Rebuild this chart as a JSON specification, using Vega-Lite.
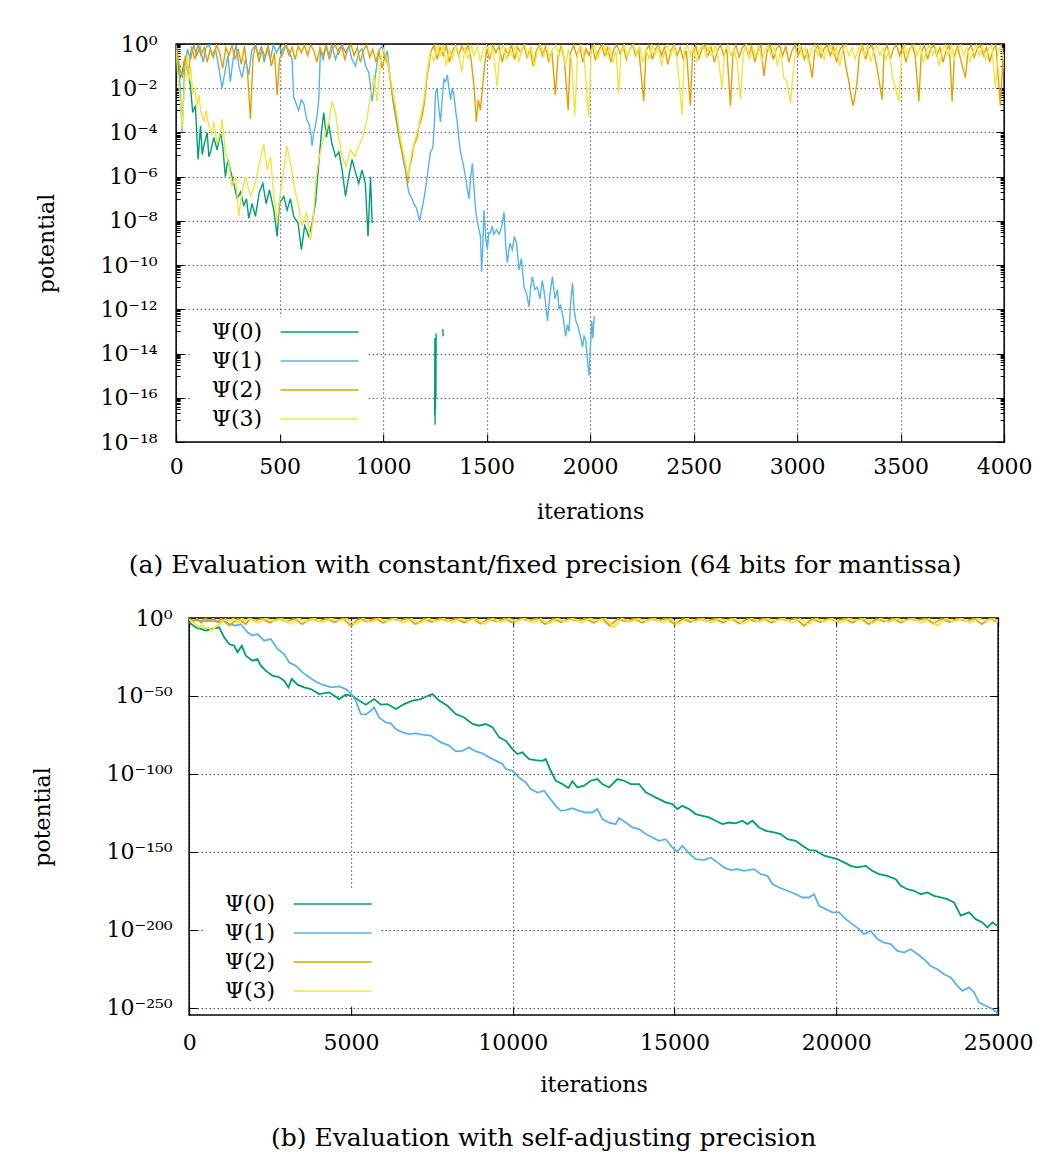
{
"$schema": "https://vega.github.io/schema/vega-lite/v6.json",
"background": "white",
"padding": {"left": 30, "top": 32, "right": 5, "bottom": 5},
"config": {
  "font": "DejaVu Serif",
  "view": {"stroke": "#000", "strokeWidth": 1.5},
  "axis": {"domain": false, "labelFont": "DejaVu Serif", "labelFontSize": 22, "labelColor": "#000", "titleFont": "DejaVu Serif", "titleFontSize": 22, "titleFontWeight": "normal", "titleColor": "#000", "tickColor": "#000", "tickWidth": 1, "gridColor": "#000", "gridDash": [1.2, 2.8], "gridWidth": 1, "gridOpacity": 0.85, "labelFlush": false, "labelOverlap": false},
  "legend": {"orient": "none", "fillColor": "white", "padding": 4, "symbolType": "M-4,0H4", "symbolSize": 380, "symbolStrokeWidth": 1.5, "labelFont": "DejaVu Serif", "labelFontSize": 22, "labelColor": "#000", "labelAlign": "right", "labelOffset": -68.5, "symbolOffset": 112.5, "rowPadding": 7},
  "title": {"font": "DejaVu Serif", "fontSize": 25, "fontWeight": "normal", "color": "#000"}
},
"spacing": 27,
"center": true,
"resolve": {"legend": {"color": "independent"}, "scale": {"color": "independent"}},
"vconcat": [
{
  "width": 828, "height": 398,
  "data": {"name": "top"},
  "title": {"text": "(a) Evaluation with constant/fixed precision (64 bits for mantissa)", "orient": "bottom", "frame": "group", "anchor": "middle", "dx": -45, "offset": 31},
  "layer": [
    {
      "mark": {"type": "line", "strokeWidth": 1.4, "clip": true},
      "encoding": {
        "x": {"field": "it", "type": "quantitative", "scale": {"domain": [0, 4000], "nice": false, "zero": false},
              "axis": {"orient": "bottom", "values": [0,500,1000,1500,2000,2500,3000,3500,4000], "format": "d", "tickSize": -8, "labelPadding": 22, "title": "iterations", "titlePadding": 24, "grid": true}},
        "y": {"field": "v", "type": "quantitative", "scale": {"type": "log", "domain": [1e-18, 1], "nice": false},
              "axis": {"orient": "left", "grid": true, "title": "potential", "titlePadding": 41, "labelPadding": 27,
                "values": [1,0.9,0.8,0.7,0.6,0.5,0.4,0.3,0.2,0.1,0.01,9e-3,8e-3,7e-3,6e-3,5e-3,4e-3,3e-3,2e-3,1e-3,1e-4,9e-5,8e-5,7e-5,6e-5,5e-5,4e-5,3e-5,2e-5,1e-5,1e-6,9e-7,8e-7,7e-7,6e-7,5e-7,4e-7,3e-7,2e-7,1e-7,1e-8,9e-9,8e-9,7e-9,6e-9,5e-9,4e-9,3e-9,2e-9,1e-9,1e-10,9e-11,8e-11,7e-11,6e-11,5e-11,4e-11,3e-11,2e-11,1e-11,1e-12,9e-13,8e-13,7e-13,6e-13,5e-13,4e-13,3e-13,2e-13,1e-13,1e-14,9e-15,8e-15,7e-15,6e-15,5e-15,4e-15,3e-15,2e-15,1e-15,1e-16,9e-17,8e-17,7e-17,6e-17,5e-17,4e-17,3e-17,2e-17,1e-17,1e-18],
                "tickSize": {"condition": {"test": "(abs(log(datum.value)/LN10 - round(log(datum.value)/LN10)) > 0.01) || (round(log(datum.value)/LN10) % 2 != 0)", "value": -4}, "value": -8},
                "gridOpacity": {"condition": {"test": "(abs(log(datum.value)/LN10 - round(log(datum.value)/LN10)) > 0.01) || (round(log(datum.value)/LN10) % 2 != 0)", "value": 0}, "value": 0.85},
                "labelExpr": "((abs(log(datum.value)/LN10 - round(log(datum.value)/LN10)) > 0.01) || (round(log(datum.value)/LN10) % 2 != 0)) ? '' : '10' + replace(replace(replace(replace(replace(replace(replace(replace(replace(replace(replace(toString(round(log(datum.value)/LN10)),'-','⁻'),regexp('0','g'),'⁰'),regexp('1','g'),'¹'),regexp('2','g'),'²'),regexp('3','g'),'³'),regexp('4','g'),'⁴'),regexp('5','g'),'⁵'),regexp('6','g'),'⁶'),regexp('7','g'),'⁷'),regexp('8','g'),'⁸'),regexp('9','g'),'⁹')"}},
        "color": {"field": "psi", "type": "nominal", "scale": {"domain": ["Ψ(0)","Ψ(1)","Ψ(2)","Ψ(3)"], "range": ["#009e73","#56b4e9","#e69f00","#f0e442"]},
                  "legend": {"title": null, "orient": "none", "legendX": 16, "legendY": 273}},
        "detail": {"field": "seg"}
      }
    },
    {
      "mark": {"type": "line", "opacity": 0},
      "encoding": {
        "x": {"field": "it", "type": "quantitative", "scale": {"domain": [0, 4000], "nice": false, "zero": false},
              "axis": {"orient": "top", "values": [0,500,1000,1500,2000,2500,3000,3500,4000], "labels": false, "tickSize": -8, "title": null, "grid": false}},
        "y": {"field": "v", "type": "quantitative", "scale": {"type": "log", "domain": [1e-18, 1], "nice": false},
              "axis": {"orient": "right", "title": null, "grid": false, "labelExpr": "datum.value == 1 ? '000' : ''", "labelOpacity": 0, "labelPadding": 8,
                "values": [1,0.9,0.8,0.7,0.6,0.5,0.4,0.3,0.2,0.1,0.01,9e-3,8e-3,7e-3,6e-3,5e-3,4e-3,3e-3,2e-3,1e-3,1e-4,9e-5,8e-5,7e-5,6e-5,5e-5,4e-5,3e-5,2e-5,1e-5,1e-6,9e-7,8e-7,7e-7,6e-7,5e-7,4e-7,3e-7,2e-7,1e-7,1e-8,9e-9,8e-9,7e-9,6e-9,5e-9,4e-9,3e-9,2e-9,1e-9,1e-10,9e-11,8e-11,7e-11,6e-11,5e-11,4e-11,3e-11,2e-11,1e-11,1e-12,9e-13,8e-13,7e-13,6e-13,5e-13,4e-13,3e-13,2e-13,1e-13,1e-14,9e-15,8e-15,7e-15,6e-15,5e-15,4e-15,3e-15,2e-15,1e-15,1e-16,9e-17,8e-17,7e-17,6e-17,5e-17,4e-17,3e-17,2e-17,1e-17,1e-18],
                "tickSize": {"condition": {"test": "(abs(log(datum.value)/LN10 - round(log(datum.value)/LN10)) > 0.01) || (round(log(datum.value)/LN10) % 2 != 0)", "value": -4}, "value": -8}}}
      }
    }
  ],
  "resolve": {"axis": {"x": "independent", "y": "independent"}}
},
{
  "width": 809, "height": 397,
  "data": {"name": "bot"},
  "title": {"text": "(b) Evaluation with self-adjusting precision", "orient": "bottom", "frame": "group", "anchor": "middle", "dx": -50, "offset": 31},
  "layer": [
    {
      "mark": {"type": "line", "strokeWidth": 1.8, "clip": true},
      "encoding": {
        "x": {"field": "it", "type": "quantitative", "scale": {"domain": [0, 25000], "nice": false, "zero": false},
              "axis": {"orient": "bottom", "values": [0,5000,10000,15000,20000,25000], "format": "d", "tickSize": -8, "labelPadding": 25, "title": "iterations", "titlePadding": 21, "grid": true}},
        "y": {"field": "v", "type": "quantitative", "scale": {"type": "log", "domain": [2e-255, 1], "nice": false},
              "axis": {"orient": "left", "grid": true, "title": "potential", "titlePadding": 52, "labelPadding": 25, "tickSize": -8,
                "values": [1,1e-50,1e-100,1e-150,1e-200,1e-250],
                "labelExpr": "'10' + replace(replace(replace(replace(replace(replace(replace(replace(replace(replace(replace(toString(round(log(datum.value)/LN10)),'-','⁻'),regexp('0','g'),'⁰'),regexp('1','g'),'¹'),regexp('2','g'),'²'),regexp('3','g'),'³'),regexp('4','g'),'⁴'),regexp('5','g'),'⁵'),regexp('6','g'),'⁶'),regexp('7','g'),'⁷'),regexp('8','g'),'⁸'),regexp('9','g'),'⁹')"}},
        "color": {"field": "psi", "type": "nominal", "scale": {"domain": ["Ψ(0)","Ψ(1)","Ψ(2)","Ψ(3)"], "range": ["#009e73","#56b4e9","#e69f00","#f0e442"]},
                  "legend": {"title": null, "orient": "none", "legendX": 16, "legendY": 271}}
      }
    },
    {
      "mark": {"type": "line", "opacity": 0},
      "encoding": {
        "x": {"field": "it", "type": "quantitative", "scale": {"domain": [0, 25000], "nice": false, "zero": false},
              "axis": {"orient": "top", "values": [0,5000,10000,15000,20000,25000], "labels": false, "tickSize": -8, "title": null, "grid": false}},
        "y": {"field": "v", "type": "quantitative", "scale": {"type": "log", "domain": [2e-255, 1], "nice": false},
              "axis": {"orient": "right", "labels": false, "title": null, "grid": false, "tickSize": -8, "values": [1,1e-50,1e-100,1e-150,1e-200,1e-250]}}
      }
    }
  ],
  "resolve": {"axis": {"x": "independent", "y": "independent"}}
}
],
"datasets": {
"top": [
{"psi":"Ψ(0)","seg":"a","it":5,"v":0.16},{"psi":"Ψ(0)","seg":"a","it":18,"v":0.03},{"psi":"Ψ(0)","seg":"a","it":29,"v":0.05},{"psi":"Ψ(0)","seg":"a","it":41,"v":0.2},{"psi":"Ψ(0)","seg":"a","it":53,"v":0.08},{"psi":"Ψ(0)","seg":"a","it":69,"v":0.013},{"psi":"Ψ(0)","seg":"a","it":80,"v":8e-4},{"psi":"Ψ(0)","seg":"a","it":93,"v":1.6e-3},{"psi":"Ψ(0)","seg":"a","it":106,"v":6e-6},{"psi":"Ψ(0)","seg":"a","it":118,"v":2e-4},{"psi":"Ψ(0)","seg":"a","it":126,"v":1e-5},{"psi":"Ψ(0)","seg":"a","it":134,"v":2.5e-5},{"psi":"Ψ(0)","seg":"a","it":150,"v":1e-4},{"psi":"Ψ(0)","seg":"a","it":158,"v":8e-6},{"psi":"Ψ(0)","seg":"a","it":166,"v":1.3e-5},{"psi":"Ψ(0)","seg":"a","it":182,"v":6e-5},{"psi":"Ψ(0)","seg":"a","it":198,"v":1.6e-5},{"psi":"Ψ(0)","seg":"a","it":214,"v":1e-4},{"psi":"Ψ(0)","seg":"a","it":225,"v":2.5e-5},{"psi":"Ψ(0)","seg":"a","it":238,"v":1e-6},{"psi":"Ψ(0)","seg":"a","it":250,"v":6e-6},{"psi":"Ψ(0)","seg":"a","it":262,"v":2e-6},{"psi":"Ψ(0)","seg":"a","it":278,"v":5e-7},{"psi":"Ψ(0)","seg":"a","it":295,"v":1e-7},{"psi":"Ψ(0)","seg":"a","it":311,"v":2e-7},{"psi":"Ψ(0)","seg":"a","it":327,"v":5e-8},{"psi":"Ψ(0)","seg":"a","it":340,"v":1e-7},{"psi":"Ψ(0)","seg":"a","it":351,"v":1.3e-8},{"psi":"Ψ(0)","seg":"a","it":367,"v":6e-8},{"psi":"Ψ(0)","seg":"a","it":383,"v":1.6e-8},{"psi":"Ψ(0)","seg":"a","it":402,"v":2e-7},{"psi":"Ψ(0)","seg":"a","it":419,"v":5e-7},{"psi":"Ψ(0)","seg":"a","it":435,"v":6e-8},{"psi":"Ψ(0)","seg":"a","it":451,"v":2.5e-7},{"psi":"Ψ(0)","seg":"a","it":472,"v":3e-8},{"psi":"Ψ(0)","seg":"a","it":488,"v":2e-9},{"psi":"Ψ(0)","seg":"a","it":499,"v":6e-8},{"psi":"Ψ(0)","seg":"a","it":520,"v":1.3e-7},{"psi":"Ψ(0)","seg":"a","it":536,"v":3e-8},{"psi":"Ψ(0)","seg":"a","it":552,"v":1e-7},{"psi":"Ψ(0)","seg":"a","it":568,"v":1.6e-8},{"psi":"Ψ(0)","seg":"a","it":589,"v":8e-9},{"psi":"Ψ(0)","seg":"a","it":605,"v":5e-10},{"psi":"Ψ(0)","seg":"a","it":621,"v":6e-9},{"psi":"Ψ(0)","seg":"a","it":641,"v":2e-9},{"psi":"Ψ(0)","seg":"a","it":657,"v":8e-9},{"psi":"Ψ(0)","seg":"a","it":673,"v":6e-8},{"psi":"Ψ(0)","seg":"a","it":689,"v":4e-6},{"psi":"Ψ(0)","seg":"a","it":702,"v":1e-4},{"psi":"Ψ(0)","seg":"a","it":713,"v":8e-4},{"psi":"Ψ(0)","seg":"a","it":726,"v":6e-5},{"psi":"Ψ(0)","seg":"a","it":737,"v":2.5e-4},{"psi":"Ψ(0)","seg":"a","it":753,"v":3e-5},{"psi":"Ψ(0)","seg":"a","it":770,"v":8e-6},{"psi":"Ψ(0)","seg":"a","it":786,"v":1.3e-5},{"psi":"Ψ(0)","seg":"a","it":802,"v":2e-6},{"psi":"Ψ(0)","seg":"a","it":818,"v":1.3e-7},{"psi":"Ψ(0)","seg":"a","it":834,"v":1e-6},{"psi":"Ψ(0)","seg":"a","it":850,"v":6e-6},{"psi":"Ψ(0)","seg":"a","it":866,"v":1.6e-6},{"psi":"Ψ(0)","seg":"a","it":882,"v":5e-7},{"psi":"Ψ(0)","seg":"a","it":898,"v":2e-6},{"psi":"Ψ(0)","seg":"a","it":914,"v":5e-7},{"psi":"Ψ(0)","seg":"a","it":927,"v":2e-9},{"psi":"Ψ(0)","seg":"a","it":939,"v":1e-6},{"psi":"Ψ(0)","seg":"a","it":947,"v":8e-9},
{"psi":"Ψ(0)","seg":"b","it":1249,"v":1.6e-17},{"psi":"Ψ(0)","seg":"b","it":1250,"v":5e-14},{"psi":"Ψ(0)","seg":"b","it":1251,"v":6e-18},{"psi":"Ψ(0)","seg":"b","it":1252,"v":1e-14},{"psi":"Ψ(0)","seg":"b","it":1253,"v":3e-17},{"psi":"Ψ(0)","seg":"b","it":1254,"v":3e-15},{"psi":"Ψ(0)","seg":"b","it":1255,"v":1e-16},{"psi":"Ψ(0)","seg":"b","it":1256,"v":8e-14},
{"psi":"Ψ(0)","seg":"c","it":1288,"v":1.3e-13},{"psi":"Ψ(0)","seg":"c","it":1290,"v":6e-14},
{"psi":"Ψ(1)","it":0,"v":0.9},{"psi":"Ψ(1)","it":15,"v":0.1},{"psi":"Ψ(1)","it":29,"v":1e-4},{"psi":"Ψ(1)","it":40,"v":0.05},{"psi":"Ψ(1)","it":55,"v":0.6},{"psi":"Ψ(1)","it":70,"v":0.2},{"psi":"Ψ(1)","it":85,"v":0.9},{"psi":"Ψ(1)","it":100,"v":0.3},{"psi":"Ψ(1)","it":115,"v":0.8},{"psi":"Ψ(1)","it":130,"v":0.15},{"psi":"Ψ(1)","it":145,"v":0.7},{"psi":"Ψ(1)","it":160,"v":0.9},{"psi":"Ψ(1)","it":175,"v":0.3},{"psi":"Ψ(1)","it":190,"v":0.6},{"psi":"Ψ(1)","it":205,"v":0.1},{"psi":"Ψ(1)","it":222,"v":0.01},{"psi":"Ψ(1)","it":235,"v":0.05},{"psi":"Ψ(1)","it":250,"v":0.3},{"psi":"Ψ(1)","it":262,"v":0.02},{"psi":"Ψ(1)","it":275,"v":0.2},{"psi":"Ψ(1)","it":290,"v":0.9},{"psi":"Ψ(1)","it":303,"v":0.1},{"psi":"Ψ(1)","it":318,"v":0.03},{"psi":"Ψ(1)","it":335,"v":0.2},{"psi":"Ψ(1)","it":351,"v":0.04},{"psi":"Ψ(1)","it":365,"v":0.5},{"psi":"Ψ(1)","it":383,"v":0.9},{"psi":"Ψ(1)","it":398,"v":0.3},{"psi":"Ψ(1)","it":412,"v":0.8},{"psi":"Ψ(1)","it":425,"v":0.15},{"psi":"Ψ(1)","it":440,"v":0.6},{"psi":"Ψ(1)","it":455,"v":0.2},{"psi":"Ψ(1)","it":470,"v":0.9},{"psi":"Ψ(1)","it":485,"v":0.4},{"psi":"Ψ(1)","it":500,"v":0.8},{"psi":"Ψ(1)","it":512,"v":0.3},{"psi":"Ψ(1)","it":530,"v":0.9},{"psi":"Ψ(1)","it":545,"v":0.5},{"psi":"Ψ(1)","it":560,"v":0.2},{"psi":"Ψ(1)","it":568,"v":4e-3},{"psi":"Ψ(1)","it":580,"v":2e-3},{"psi":"Ψ(1)","it":592,"v":1e-3},{"psi":"Ψ(1)","it":605,"v":3e-3},{"psi":"Ψ(1)","it":617,"v":2e-3},{"psi":"Ψ(1)","it":630,"v":4e-4},{"psi":"Ψ(1)","it":641,"v":2.5e-4},{"psi":"Ψ(1)","it":650,"v":1e-4},{"psi":"Ψ(1)","it":657,"v":2.5e-5},{"psi":"Ψ(1)","it":665,"v":1e-4},{"psi":"Ψ(1)","it":673,"v":2e-4},{"psi":"Ψ(1)","it":681,"v":6e-4},{"psi":"Ψ(1)","it":689,"v":3e-3},{"psi":"Ψ(1)","it":697,"v":0.5},{"psi":"Ψ(1)","it":710,"v":0.2},{"psi":"Ψ(1)","it":725,"v":0.8},{"psi":"Ψ(1)","it":737,"v":0.3},{"psi":"Ψ(1)","it":752,"v":0.9},{"psi":"Ψ(1)","it":770,"v":0.2},{"psi":"Ψ(1)","it":786,"v":0.6},{"psi":"Ψ(1)","it":802,"v":0.9},{"psi":"Ψ(1)","it":818,"v":0.4},{"psi":"Ψ(1)","it":834,"v":0.8},{"psi":"Ψ(1)","it":850,"v":0.2},{"psi":"Ψ(1)","it":866,"v":0.1},{"psi":"Ψ(1)","it":882,"v":0.4},{"psi":"Ψ(1)","it":898,"v":0.6},{"psi":"Ψ(1)","it":915,"v":0.1},{"psi":"Ψ(1)","it":931,"v":0.05},{"psi":"Ψ(1)","it":947,"v":2.5e-3},{"psi":"Ψ(1)","it":963,"v":0.04},{"psi":"Ψ(1)","it":979,"v":0.5},{"psi":"Ψ(1)","it":995,"v":0.8},{"psi":"Ψ(1)","it":1010,"v":0.2},{"psi":"Ψ(1)","it":1020,"v":0.5},{"psi":"Ψ(1)","it":1035,"v":0.025},{"psi":"Ψ(1)","it":1052,"v":1.3e-3},{"psi":"Ψ(1)","it":1064,"v":3e-4},{"psi":"Ψ(1)","it":1076,"v":6e-5},{"psi":"Ψ(1)","it":1088,"v":2e-5},{"psi":"Ψ(1)","it":1100,"v":4e-6},{"psi":"Ψ(1)","it":1108,"v":2e-6},{"psi":"Ψ(1)","it":1116,"v":5e-7},{"psi":"Ψ(1)","it":1124,"v":2e-7},{"psi":"Ψ(1)","it":1132,"v":1.3e-7},{"psi":"Ψ(1)","it":1140,"v":1e-7},{"psi":"Ψ(1)","it":1148,"v":6e-8},{"psi":"Ψ(1)","it":1160,"v":4e-8},{"psi":"Ψ(1)","it":1168,"v":2e-8},{"psi":"Ψ(1)","it":1176,"v":1e-8},{"psi":"Ψ(1)","it":1186,"v":3e-8},{"psi":"Ψ(1)","it":1197,"v":1e-7},{"psi":"Ψ(1)","it":1205,"v":3e-7},{"psi":"Ψ(1)","it":1213,"v":1e-6},{"psi":"Ψ(1)","it":1221,"v":4e-6},{"psi":"Ψ(1)","it":1229,"v":1.3e-5},{"psi":"Ψ(1)","it":1240,"v":2e-5},{"psi":"Ψ(1)","it":1247,"v":2e-4},{"psi":"Ψ(1)","it":1253,"v":6e-3},{"psi":"Ψ(1)","it":1261,"v":0.01},{"psi":"Ψ(1)","it":1270,"v":1e-3},{"psi":"Ψ(1)","it":1277,"v":3e-4},{"psi":"Ψ(1)","it":1285,"v":3e-3},{"psi":"Ψ(1)","it":1294,"v":0.025},{"psi":"Ψ(1)","it":1302,"v":0.02},{"psi":"Ψ(1)","it":1310,"v":0.04},{"psi":"Ψ(1)","it":1318,"v":0.01},{"psi":"Ψ(1)","it":1326,"v":3e-3},{"psi":"Ψ(1)","it":1334,"v":0.01},{"psi":"Ψ(1)","it":1342,"v":5e-3},{"psi":"Ψ(1)","it":1350,"v":1e-3},{"psi":"Ψ(1)","it":1358,"v":3e-4},{"psi":"Ψ(1)","it":1366,"v":5e-5},{"psi":"Ψ(1)","it":1374,"v":1.3e-5},{"psi":"Ψ(1)","it":1386,"v":4e-6},{"psi":"Ψ(1)","it":1398,"v":1e-6},{"psi":"Ψ(1)","it":1406,"v":3e-7},{"psi":"Ψ(1)","it":1415,"v":1e-7},{"psi":"Ψ(1)","it":1423,"v":1e-6},{"psi":"Ψ(1)","it":1431,"v":4e-6},{"psi":"Ψ(1)","it":1439,"v":3e-7},{"psi":"Ψ(1)","it":1447,"v":3e-8},{"psi":"Ψ(1)","it":1455,"v":1e-8},{"psi":"Ψ(1)","it":1463,"v":4e-9},{"psi":"Ψ(1)","it":1470,"v":2e-9},{"psi":"Ψ(1)","it":1476,"v":5e-11},{"psi":"Ψ(1)","it":1482,"v":1e-9},{"psi":"Ψ(1)","it":1487,"v":3e-8},{"psi":"Ψ(1)","it":1495,"v":2e-9},{"psi":"Ψ(1)","it":1503,"v":5e-10},{"psi":"Ψ(1)","it":1511,"v":3e-9},{"psi":"Ψ(1)","it":1519,"v":3e-9},{"psi":"Ψ(1)","it":1527,"v":6e-9},{"psi":"Ψ(1)","it":1535,"v":2.5e-9},{"psi":"Ψ(1)","it":1548,"v":4e-9},{"psi":"Ψ(1)","it":1560,"v":2.5e-9},{"psi":"Ψ(1)","it":1572,"v":5e-9},{"psi":"Ψ(1)","it":1584,"v":2.5e-8},{"psi":"Ψ(1)","it":1592,"v":8e-10},{"psi":"Ψ(1)","it":1600,"v":1.3e-10},{"psi":"Ψ(1)","it":1612,"v":1e-9},{"psi":"Ψ(1)","it":1624,"v":5e-10},{"psi":"Ψ(1)","it":1634,"v":2e-9},{"psi":"Ψ(1)","it":1644,"v":1e-9},{"psi":"Ψ(1)","it":1650,"v":3e-10},{"psi":"Ψ(1)","it":1656,"v":6e-11},{"psi":"Ψ(1)","it":1668,"v":2e-10},{"psi":"Ψ(1)","it":1681,"v":1e-11},{"psi":"Ψ(1)","it":1693,"v":5e-12},{"psi":"Ψ(1)","it":1705,"v":1.3e-12},{"psi":"Ψ(1)","it":1713,"v":1e-11},{"psi":"Ψ(1)","it":1721,"v":3e-11},{"psi":"Ψ(1)","it":1733,"v":8e-12},{"psi":"Ψ(1)","it":1745,"v":1e-11},{"psi":"Ψ(1)","it":1757,"v":3e-12},{"psi":"Ψ(1)","it":1769,"v":2e-11},{"psi":"Ψ(1)","it":1781,"v":4e-12},{"psi":"Ψ(1)","it":1794,"v":3e-13},{"psi":"Ψ(1)","it":1806,"v":5e-12},{"psi":"Ψ(1)","it":1818,"v":3e-11},{"psi":"Ψ(1)","it":1830,"v":3e-12},{"psi":"Ψ(1)","it":1842,"v":8e-12},{"psi":"Ψ(1)","it":1850,"v":1e-12},{"psi":"Ψ(1)","it":1858,"v":1.5e-12},{"psi":"Ψ(1)","it":1870,"v":4e-13},{"psi":"Ψ(1)","it":1882,"v":6e-14},{"psi":"Ψ(1)","it":1890,"v":2e-13},{"psi":"Ψ(1)","it":1898,"v":1e-13},{"psi":"Ψ(1)","it":1906,"v":2e-12},{"psi":"Ψ(1)","it":1915,"v":1.6e-11},{"psi":"Ψ(1)","it":1923,"v":1e-12},{"psi":"Ψ(1)","it":1931,"v":3e-13},{"psi":"Ψ(1)","it":1939,"v":2e-13},{"psi":"Ψ(1)","it":1947,"v":1e-13},{"psi":"Ψ(1)","it":1955,"v":5e-14},{"psi":"Ψ(1)","it":1963,"v":2e-14},{"psi":"Ψ(1)","it":1971,"v":6e-14},{"psi":"Ψ(1)","it":1979,"v":4e-14},{"psi":"Ψ(1)","it":1987,"v":5e-15},{"psi":"Ψ(1)","it":1995,"v":1e-15},{"psi":"Ψ(1)","it":2001,"v":2e-14},{"psi":"Ψ(1)","it":2008,"v":3e-13},{"psi":"Ψ(1)","it":2013,"v":5e-14},{"psi":"Ψ(1)","it":2020,"v":5e-13},
{"psi":"Ψ(2)","it":0,"v":0.9},{"psi":"Ψ(2)","it":15,"v":0.1},{"psi":"Ψ(2)","it":30,"v":0.03},{"psi":"Ψ(2)","it":45,"v":0.3},{"psi":"Ψ(2)","it":60,"v":0.06},{"psi":"Ψ(2)","it":75,"v":0.8},{"psi":"Ψ(2)","it":90,"v":0.2},{"psi":"Ψ(2)","it":105,"v":0.9},{"psi":"Ψ(2)","it":120,"v":0.3},{"psi":"Ψ(2)","it":135,"v":0.7},{"psi":"Ψ(2)","it":150,"v":0.15},{"psi":"Ψ(2)","it":165,"v":0.6},{"psi":"Ψ(2)","it":180,"v":0.25},{"psi":"Ψ(2)","it":195,"v":0.9},{"psi":"Ψ(2)","it":210,"v":0.4},{"psi":"Ψ(2)","it":225,"v":0.08},{"psi":"Ψ(2)","it":240,"v":0.7},{"psi":"Ψ(2)","it":255,"v":0.3},{"psi":"Ψ(2)","it":270,"v":0.9},{"psi":"Ψ(2)","it":285,"v":0.2},{"psi":"Ψ(2)","it":300,"v":0.6},{"psi":"Ψ(2)","it":315,"v":0.12},{"psi":"Ψ(2)","it":330,"v":0.8},{"psi":"Ψ(2)","it":345,"v":0.05},{"psi":"Ψ(2)","it":359,"v":4e-4},{"psi":"Ψ(2)","it":372,"v":0.3},{"psi":"Ψ(2)","it":385,"v":0.9},{"psi":"Ψ(2)","it":400,"v":0.15},{"psi":"Ψ(2)","it":415,"v":0.6},{"psi":"Ψ(2)","it":430,"v":0.25},{"psi":"Ψ(2)","it":445,"v":0.9},{"psi":"Ψ(2)","it":460,"v":0.1},{"psi":"Ψ(2)","it":475,"v":0.4},{"psi":"Ψ(2)","it":488,"v":5e-3},{"psi":"Ψ(2)","it":500,"v":0.2},{"psi":"Ψ(2)","it":515,"v":0.6},{"psi":"Ψ(2)","it":530,"v":0.9},{"psi":"Ψ(2)","it":545,"v":0.3},{"psi":"Ψ(2)","it":560,"v":0.7},{"psi":"Ψ(2)","it":575,"v":0.2},{"psi":"Ψ(2)","it":590,"v":0.8},{"psi":"Ψ(2)","it":605,"v":0.4},{"psi":"Ψ(2)","it":620,"v":0.9},{"psi":"Ψ(2)","it":635,"v":0.3},{"psi":"Ψ(2)","it":650,"v":0.9},{"psi":"Ψ(2)","it":665,"v":0.5},{"psi":"Ψ(2)","it":680,"v":0.15},{"psi":"Ψ(2)","it":695,"v":0.7},{"psi":"Ψ(2)","it":710,"v":0.3},{"psi":"Ψ(2)","it":725,"v":0.9},{"psi":"Ψ(2)","it":740,"v":0.2},{"psi":"Ψ(2)","it":755,"v":0.6},{"psi":"Ψ(2)","it":770,"v":0.9},{"psi":"Ψ(2)","it":785,"v":0.35},{"psi":"Ψ(2)","it":800,"v":0.8},{"psi":"Ψ(2)","it":815,"v":0.2},{"psi":"Ψ(2)","it":830,"v":0.6},{"psi":"Ψ(2)","it":845,"v":0.9},{"psi":"Ψ(2)","it":860,"v":0.3},{"psi":"Ψ(2)","it":875,"v":0.7},{"psi":"Ψ(2)","it":890,"v":0.15},{"psi":"Ψ(2)","it":905,"v":0.5},{"psi":"Ψ(2)","it":920,"v":0.9},{"psi":"Ψ(2)","it":935,"v":0.25},{"psi":"Ψ(2)","it":950,"v":0.6},{"psi":"Ψ(2)","it":965,"v":0.15},{"psi":"Ψ(2)","it":980,"v":0.5},{"psi":"Ψ(2)","it":995,"v":0.08},{"psi":"Ψ(2)","it":1010,"v":0.3},{"psi":"Ψ(2)","it":1027,"v":0.08},{"psi":"Ψ(2)","it":1044,"v":5e-3},{"psi":"Ψ(2)","it":1058,"v":1e-3},{"psi":"Ψ(2)","it":1068,"v":3e-4},{"psi":"Ψ(2)","it":1084,"v":2.5e-5},{"psi":"Ψ(2)","it":1100,"v":6e-6},{"psi":"Ψ(2)","it":1110,"v":3e-6},{"psi":"Ψ(2)","it":1119,"v":5e-7},{"psi":"Ψ(2)","it":1125,"v":2e-6},{"psi":"Ψ(2)","it":1132,"v":4e-6},{"psi":"Ψ(2)","it":1140,"v":8e-6},{"psi":"Ψ(2)","it":1148,"v":2.5e-5},{"psi":"Ψ(2)","it":1157,"v":4e-5},{"psi":"Ψ(2)","it":1165,"v":6e-5},{"psi":"Ψ(2)","it":1173,"v":2e-4},{"psi":"Ψ(2)","it":1181,"v":3e-4},{"psi":"Ψ(2)","it":1189,"v":6e-4},{"psi":"Ψ(2)","it":1197,"v":1.6e-3},{"psi":"Ψ(2)","it":1205,"v":6e-3},{"psi":"Ψ(2)","it":1213,"v":0.04},{"psi":"Ψ(2)","it":1221,"v":0.1},{"psi":"Ψ(2)","it":1229,"v":0.4},{"psi":"Ψ(2)","it":1245,"v":0.9},{"psi":"Ψ(2)","it":1260,"v":0.2},{"psi":"Ψ(2)","it":1275,"v":0.7},{"psi":"Ψ(2)","it":1290,"v":0.3},{"psi":"Ψ(2)","it":1305,"v":0.9},{"psi":"Ψ(2)","it":1320,"v":0.15},{"psi":"Ψ(2)","it":1335,"v":0.5},{"psi":"Ψ(2)","it":1350,"v":0.9},{"psi":"Ψ(2)","it":1365,"v":0.3},{"psi":"Ψ(2)","it":1380,"v":0.8},{"psi":"Ψ(2)","it":1395,"v":0.4},{"psi":"Ψ(2)","it":1410,"v":0.9},{"psi":"Ψ(2)","it":1425,"v":0.2},{"psi":"Ψ(2)","it":1440,"v":0.01},{"psi":"Ψ(2)","it":1450,"v":3e-4},{"psi":"Ψ(2)","it":1460,"v":3e-3},{"psi":"Ψ(2)","it":1470,"v":1e-3},{"psi":"Ψ(2)","it":1480,"v":0.01},{"psi":"Ψ(2)","it":1490,"v":0.1},{"psi":"Ψ(2)","it":1500,"v":0.6},{"psi":"Ψ(2)","it":1515,"v":0.2},{"psi":"Ψ(2)","it":1530,"v":0.9},{"psi":"Ψ(2)","it":1545,"v":0.4},{"psi":"Ψ(2)","it":1560,"v":0.8},{"psi":"Ψ(2)","it":1575,"v":0.15},{"psi":"Ψ(2)","it":1590,"v":0.6},{"psi":"Ψ(2)","it":1605,"v":0.3},{"psi":"Ψ(2)","it":1620,"v":0.9},{"psi":"Ψ(2)","it":1635,"v":0.2},{"psi":"Ψ(2)","it":1650,"v":0.7},{"psi":"Ψ(2)","it":1665,"v":0.4},{"psi":"Ψ(2)","it":1680,"v":0.9},{"psi":"Ψ(2)","it":1695,"v":0.25},{"psi":"Ψ(2)","it":1710,"v":0.6},{"psi":"Ψ(2)","it":1725,"v":0.1},{"psi":"Ψ(2)","it":1740,"v":0.5},{"psi":"Ψ(2)","it":1755,"v":0.9},{"psi":"Ψ(2)","it":1770,"v":0.3},{"psi":"Ψ(2)","it":1785,"v":0.8},{"psi":"Ψ(2)","it":1800,"v":0.15},{"psi":"Ψ(2)","it":1815,"v":0.5},{"psi":"Ψ(2)","it":1832,"v":5e-3},{"psi":"Ψ(2)","it":1845,"v":0.3},{"psi":"Ψ(2)","it":1860,"v":0.8},{"psi":"Ψ(2)","it":1875,"v":0.2},{"psi":"Ψ(2)","it":1894,"v":1e-3},{"psi":"Ψ(2)","it":1905,"v":0.4},{"psi":"Ψ(2)","it":1920,"v":0.9},{"psi":"Ψ(2)","it":1935,"v":0.3},{"psi":"Ψ(2)","it":1950,"v":0.7},{"psi":"Ψ(2)","it":1965,"v":0.15},{"psi":"Ψ(2)","it":1980,"v":0.6},{"psi":"Ψ(2)","it":1995,"v":0.3},{"psi":"Ψ(2)","it":2010,"v":0.9},{"psi":"Ψ(2)","it":2025,"v":0.2},{"psi":"Ψ(2)","it":2040,"v":0.5},{"psi":"Ψ(2)","it":2055,"v":0.9},{"psi":"Ψ(2)","it":2070,"v":0.3},{"psi":"Ψ(2)","it":2085,"v":0.7},{"psi":"Ψ(2)","it":2100,"v":0.15},{"psi":"Ψ(2)","it":2115,"v":0.6},{"psi":"Ψ(2)","it":2130,"v":0.9},{"psi":"Ψ(2)","it":2145,"v":0.35},{"psi":"Ψ(2)","it":2160,"v":0.8},{"psi":"Ψ(2)","it":2175,"v":0.2},{"psi":"Ψ(2)","it":2190,"v":0.5},{"psi":"Ψ(2)","it":2205,"v":0.9},{"psi":"Ψ(2)","it":2220,"v":0.3},{"psi":"Ψ(2)","it":2235,"v":0.6},{"psi":"Ψ(2)","it":2259,"v":2.5e-3},{"psi":"Ψ(2)","it":2270,"v":0.5},{"psi":"Ψ(2)","it":2285,"v":0.9},{"psi":"Ψ(2)","it":2300,"v":0.2},{"psi":"Ψ(2)","it":2315,"v":0.6},{"psi":"Ψ(2)","it":2330,"v":0.9},{"psi":"Ψ(2)","it":2345,"v":0.3},{"psi":"Ψ(2)","it":2360,"v":0.8},{"psi":"Ψ(2)","it":2375,"v":0.12},{"psi":"Ψ(2)","it":2390,"v":0.5},{"psi":"Ψ(2)","it":2405,"v":0.9},{"psi":"Ψ(2)","it":2420,"v":0.3},{"psi":"Ψ(2)","it":2435,"v":0.7},{"psi":"Ψ(2)","it":2450,"v":0.2},{"psi":"Ψ(2)","it":2465,"v":0.5},{"psi":"Ψ(2)","it":2484,"v":1.6e-3},{"psi":"Ψ(2)","it":2495,"v":0.4},{"psi":"Ψ(2)","it":2510,"v":0.9},{"psi":"Ψ(2)","it":2525,"v":0.2},{"psi":"Ψ(2)","it":2540,"v":0.6},{"psi":"Ψ(2)","it":2555,"v":0.9},{"psi":"Ψ(2)","it":2570,"v":0.3},{"psi":"Ψ(2)","it":2585,"v":0.7},{"psi":"Ψ(2)","it":2600,"v":0.15},{"psi":"Ψ(2)","it":2615,"v":0.5},{"psi":"Ψ(2)","it":2630,"v":0.9},{"psi":"Ψ(2)","it":2645,"v":0.3},{"psi":"Ψ(2)","it":2660,"v":0.6},{"psi":"Ψ(2)","it":2678,"v":1.6e-3},{"psi":"Ψ(2)","it":2690,"v":0.4},{"psi":"Ψ(2)","it":2705,"v":0.9},{"psi":"Ψ(2)","it":2720,"v":0.25},{"psi":"Ψ(2)","it":2735,"v":0.7},{"psi":"Ψ(2)","it":2750,"v":0.9},{"psi":"Ψ(2)","it":2765,"v":0.3},{"psi":"Ψ(2)","it":2780,"v":0.8},{"psi":"Ψ(2)","it":2795,"v":0.15},{"psi":"Ψ(2)","it":2810,"v":0.5},{"psi":"Ψ(2)","it":2825,"v":0.9},{"psi":"Ψ(2)","it":2839,"v":0.036},{"psi":"Ψ(2)","it":2855,"v":0.5},{"psi":"Ψ(2)","it":2870,"v":0.9},{"psi":"Ψ(2)","it":2885,"v":0.2},{"psi":"Ψ(2)","it":2900,"v":0.6},{"psi":"Ψ(2)","it":2915,"v":0.9},{"psi":"Ψ(2)","it":2930,"v":0.3},{"psi":"Ψ(2)","it":2945,"v":0.8},{"psi":"Ψ(2)","it":2960,"v":0.15},{"psi":"Ψ(2)","it":2975,"v":0.5},{"psi":"Ψ(2)","it":2990,"v":0.9},{"psi":"Ψ(2)","it":3005,"v":0.3},{"psi":"Ψ(2)","it":3020,"v":0.7},{"psi":"Ψ(2)","it":3035,"v":0.2},{"psi":"Ψ(2)","it":3050,"v":0.5},{"psi":"Ψ(2)","it":3073,"v":0.03},{"psi":"Ψ(2)","it":3085,"v":0.5},{"psi":"Ψ(2)","it":3100,"v":0.9},{"psi":"Ψ(2)","it":3115,"v":0.25},{"psi":"Ψ(2)","it":3130,"v":0.6},{"psi":"Ψ(2)","it":3145,"v":0.9},{"psi":"Ψ(2)","it":3160,"v":0.3},{"psi":"Ψ(2)","it":3175,"v":0.8},{"psi":"Ψ(2)","it":3190,"v":0.15},{"psi":"Ψ(2)","it":3205,"v":0.5},{"psi":"Ψ(2)","it":3220,"v":0.9},{"psi":"Ψ(2)","it":3235,"v":0.1},{"psi":"Ψ(2)","it":3250,"v":0.02},{"psi":"Ψ(2)","it":3262,"v":4e-3},{"psi":"Ψ(2)","it":3271,"v":1.6e-3},{"psi":"Ψ(2)","it":3280,"v":5e-3},{"psi":"Ψ(2)","it":3290,"v":0.02},{"psi":"Ψ(2)","it":3300,"v":0.3},{"psi":"Ψ(2)","it":3315,"v":0.9},{"psi":"Ψ(2)","it":3330,"v":0.2},{"psi":"Ψ(2)","it":3345,"v":0.6},{"psi":"Ψ(2)","it":3360,"v":0.9},{"psi":"Ψ(2)","it":3375,"v":0.3},{"psi":"Ψ(2)","it":3390,"v":0.05},{"psi":"Ψ(2)","it":3411,"v":3e-3},{"psi":"Ψ(2)","it":3420,"v":0.4},{"psi":"Ψ(2)","it":3435,"v":0.9},{"psi":"Ψ(2)","it":3450,"v":0.2},{"psi":"Ψ(2)","it":3465,"v":0.6},{"psi":"Ψ(2)","it":3480,"v":0.9},{"psi":"Ψ(2)","it":3495,"v":0.3},{"psi":"Ψ(2)","it":3510,"v":0.8},{"psi":"Ψ(2)","it":3525,"v":0.15},{"psi":"Ψ(2)","it":3540,"v":0.5},{"psi":"Ψ(2)","it":3555,"v":0.9},{"psi":"Ψ(2)","it":3570,"v":0.3},{"psi":"Ψ(2)","it":3588,"v":2.5e-3},{"psi":"Ψ(2)","it":3600,"v":0.4},{"psi":"Ψ(2)","it":3615,"v":0.9},{"psi":"Ψ(2)","it":3630,"v":0.2},{"psi":"Ψ(2)","it":3645,"v":0.6},{"psi":"Ψ(2)","it":3660,"v":0.9},{"psi":"Ψ(2)","it":3675,"v":0.3},{"psi":"Ψ(2)","it":3690,"v":0.7},{"psi":"Ψ(2)","it":3705,"v":0.15},{"psi":"Ψ(2)","it":3720,"v":0.5},{"psi":"Ψ(2)","it":3735,"v":0.9},{"psi":"Ψ(2)","it":3749,"v":2.5e-3},{"psi":"Ψ(2)","it":3760,"v":0.3},{"psi":"Ψ(2)","it":3775,"v":0.8},{"psi":"Ψ(2)","it":3790,"v":0.2},{"psi":"Ψ(2)","it":3813,"v":0.03},{"psi":"Ψ(2)","it":3825,"v":0.5},{"psi":"Ψ(2)","it":3840,"v":0.9},{"psi":"Ψ(2)","it":3855,"v":0.25},{"psi":"Ψ(2)","it":3870,"v":0.6},{"psi":"Ψ(2)","it":3885,"v":0.9},{"psi":"Ψ(2)","it":3900,"v":0.3},{"psi":"Ψ(2)","it":3915,"v":0.7},{"psi":"Ψ(2)","it":3930,"v":0.15},{"psi":"Ψ(2)","it":3945,"v":0.5},{"psi":"Ψ(2)","it":3960,"v":0.9},{"psi":"Ψ(2)","it":3982,"v":1.6e-3},{"psi":"Ψ(2)","it":3995,"v":0.3},{"psi":"Ψ(2)","it":4000,"v":0.05},
{"psi":"Ψ(3)","it":0,"v":0.5},{"psi":"Ψ(3)","it":10,"v":0.02},{"psi":"Ψ(3)","it":20,"v":3e-3},{"psi":"Ψ(3)","it":30,"v":1.5e-4},{"psi":"Ψ(3)","it":38,"v":5e-3},{"psi":"Ψ(3)","it":45,"v":0.05},{"psi":"Ψ(3)","it":53,"v":0.3},{"psi":"Ψ(3)","it":60,"v":0.02},{"psi":"Ψ(3)","it":70,"v":0.1},{"psi":"Ψ(3)","it":80,"v":6e-3},{"psi":"Ψ(3)","it":90,"v":0.01},{"psi":"Ψ(3)","it":100,"v":1.5e-3},{"psi":"Ψ(3)","it":110,"v":5e-3},{"psi":"Ψ(3)","it":120,"v":8e-4},{"psi":"Ψ(3)","it":134,"v":3e-4},{"psi":"Ψ(3)","it":145,"v":1e-3},{"psi":"Ψ(3)","it":158,"v":2e-4},{"psi":"Ψ(3)","it":170,"v":8e-5},{"psi":"Ψ(3)","it":182,"v":3e-4},{"psi":"Ψ(3)","it":198,"v":3e-5},{"psi":"Ψ(3)","it":214,"v":1e-4},{"psi":"Ψ(3)","it":222,"v":4e-4},{"psi":"Ψ(3)","it":238,"v":1.3e-5},{"psi":"Ψ(3)","it":254,"v":4e-6},{"psi":"Ψ(3)","it":270,"v":4e-7},{"psi":"Ψ(3)","it":287,"v":1e-6},{"psi":"Ψ(3)","it":303,"v":1.6e-8},{"psi":"Ψ(3)","it":319,"v":2.5e-7},{"psi":"Ψ(3)","it":335,"v":1e-6},{"psi":"Ψ(3)","it":359,"v":1.3e-7},{"psi":"Ψ(3)","it":383,"v":5e-7},{"psi":"Ψ(3)","it":402,"v":4e-6},{"psi":"Ψ(3)","it":423,"v":3e-5},{"psi":"Ψ(3)","it":440,"v":2e-6},{"psi":"Ψ(3)","it":456,"v":8e-6},{"psi":"Ψ(3)","it":472,"v":1.3e-7},{"psi":"Ψ(3)","it":488,"v":8e-9},{"psi":"Ψ(3)","it":504,"v":2e-7},{"psi":"Ψ(3)","it":520,"v":2e-6},{"psi":"Ψ(3)","it":536,"v":2.5e-5},{"psi":"Ψ(3)","it":552,"v":4e-6},{"psi":"Ψ(3)","it":568,"v":5e-7},{"psi":"Ψ(3)","it":589,"v":6e-8},{"psi":"Ψ(3)","it":609,"v":6e-9},{"psi":"Ψ(3)","it":630,"v":2.5e-8},{"psi":"Ψ(3)","it":649,"v":1.3e-9},{"psi":"Ψ(3)","it":665,"v":2.5e-8},{"psi":"Ψ(3)","it":676,"v":8e-7},{"psi":"Ψ(3)","it":689,"v":6e-6},{"psi":"Ψ(3)","it":713,"v":6e-5},{"psi":"Ψ(3)","it":737,"v":2.5e-4},{"psi":"Ψ(3)","it":753,"v":2.5e-3},{"psi":"Ψ(3)","it":770,"v":8e-4},{"psi":"Ψ(3)","it":786,"v":6e-5},{"psi":"Ψ(3)","it":802,"v":8e-6},{"psi":"Ψ(3)","it":821,"v":3e-6},{"psi":"Ψ(3)","it":842,"v":1.6e-5},{"psi":"Ψ(3)","it":863,"v":8e-6},{"psi":"Ψ(3)","it":882,"v":2.5e-5},{"psi":"Ψ(3)","it":902,"v":6e-5},{"psi":"Ψ(3)","it":922,"v":4e-4},{"psi":"Ψ(3)","it":939,"v":5e-3},{"psi":"Ψ(3)","it":955,"v":0.04},{"psi":"Ψ(3)","it":971,"v":2.5e-3},{"psi":"Ψ(3)","it":987,"v":0.16},{"psi":"Ψ(3)","it":1003,"v":0.6},{"psi":"Ψ(3)","it":1020,"v":0.2},{"psi":"Ψ(3)","it":1035,"v":0.03},{"psi":"Ψ(3)","it":1044,"v":0.01},{"psi":"Ψ(3)","it":1058,"v":2e-3},{"psi":"Ψ(3)","it":1068,"v":5e-4},{"psi":"Ψ(3)","it":1084,"v":5e-5},{"psi":"Ψ(3)","it":1100,"v":1e-5},{"psi":"Ψ(3)","it":1119,"v":1e-6},{"psi":"Ψ(3)","it":1132,"v":6e-6},{"psi":"Ψ(3)","it":1148,"v":3e-5},{"psi":"Ψ(3)","it":1165,"v":1e-4},{"psi":"Ψ(3)","it":1181,"v":5e-4},{"psi":"Ψ(3)","it":1197,"v":3e-3},{"psi":"Ψ(3)","it":1213,"v":0.06},{"psi":"Ψ(3)","it":1229,"v":0.5},{"psi":"Ψ(3)","it":1245,"v":0.15},{"psi":"Ψ(3)","it":1260,"v":0.8},{"psi":"Ψ(3)","it":1275,"v":0.3},{"psi":"Ψ(3)","it":1290,"v":0.9},{"psi":"Ψ(3)","it":1305,"v":0.1},{"psi":"Ψ(3)","it":1320,"v":0.6},{"psi":"Ψ(3)","it":1335,"v":0.2},{"psi":"Ψ(3)","it":1350,"v":0.9},{"psi":"Ψ(3)","it":1365,"v":0.4},{"psi":"Ψ(3)","it":1380,"v":0.05},{"psi":"Ψ(3)","it":1395,"v":0.7},{"psi":"Ψ(3)","it":1410,"v":0.2},{"psi":"Ψ(3)","it":1425,"v":0.9},{"psi":"Ψ(3)","it":1440,"v":0.3},{"psi":"Ψ(3)","it":1455,"v":0.8},{"psi":"Ψ(3)","it":1470,"v":0.15},{"psi":"Ψ(3)","it":1485,"v":0.6},{"psi":"Ψ(3)","it":1500,"v":0.9},{"psi":"Ψ(3)","it":1515,"v":0.3},{"psi":"Ψ(3)","it":1530,"v":0.7},{"psi":"Ψ(3)","it":1551,"v":0.012},{"psi":"Ψ(3)","it":1565,"v":0.5},{"psi":"Ψ(3)","it":1580,"v":0.9},{"psi":"Ψ(3)","it":1595,"v":0.2},{"psi":"Ψ(3)","it":1610,"v":0.7},{"psi":"Ψ(3)","it":1625,"v":0.3},{"psi":"Ψ(3)","it":1640,"v":0.9},{"psi":"Ψ(3)","it":1655,"v":0.15},{"psi":"Ψ(3)","it":1670,"v":0.6},{"psi":"Ψ(3)","it":1685,"v":0.9},{"psi":"Ψ(3)","it":1700,"v":0.25},{"psi":"Ψ(3)","it":1715,"v":0.8},{"psi":"Ψ(3)","it":1730,"v":0.1},{"psi":"Ψ(3)","it":1745,"v":0.5},{"psi":"Ψ(3)","it":1760,"v":0.9},{"psi":"Ψ(3)","it":1775,"v":0.3},{"psi":"Ψ(3)","it":1790,"v":0.7},{"psi":"Ψ(3)","it":1805,"v":0.2},{"psi":"Ψ(3)","it":1820,"v":0.6},{"psi":"Ψ(3)","it":1835,"v":0.9},{"psi":"Ψ(3)","it":1850,"v":0.3},{"psi":"Ψ(3)","it":1865,"v":0.8},{"psi":"Ψ(3)","it":1880,"v":0.1},{"psi":"Ψ(3)","it":1895,"v":0.5},{"psi":"Ψ(3)","it":1910,"v":0.2},{"psi":"Ψ(3)","it":1926,"v":6e-4},{"psi":"Ψ(3)","it":1940,"v":0.4},{"psi":"Ψ(3)","it":1955,"v":0.9},{"psi":"Ψ(3)","it":1970,"v":0.3},{"psi":"Ψ(3)","it":1993,"v":5e-4},{"psi":"Ψ(3)","it":2005,"v":0.5},{"psi":"Ψ(3)","it":2020,"v":0.9},{"psi":"Ψ(3)","it":2035,"v":0.2},{"psi":"Ψ(3)","it":2050,"v":0.6},{"psi":"Ψ(3)","it":2065,"v":0.9},{"psi":"Ψ(3)","it":2080,"v":0.3},{"psi":"Ψ(3)","it":2095,"v":0.7},{"psi":"Ψ(3)","it":2110,"v":0.15},{"psi":"Ψ(3)","it":2125,"v":0.5},{"psi":"Ψ(3)","it":2138,"v":6e-3},{"psi":"Ψ(3)","it":2150,"v":0.4},{"psi":"Ψ(3)","it":2165,"v":0.9},{"psi":"Ψ(3)","it":2180,"v":0.25},{"psi":"Ψ(3)","it":2195,"v":0.7},{"psi":"Ψ(3)","it":2210,"v":0.9},{"psi":"Ψ(3)","it":2225,"v":0.3},{"psi":"Ψ(3)","it":2240,"v":0.8},{"psi":"Ψ(3)","it":2255,"v":0.15},{"psi":"Ψ(3)","it":2270,"v":0.6},{"psi":"Ψ(3)","it":2285,"v":0.2},{"psi":"Ψ(3)","it":2300,"v":0.9},{"psi":"Ψ(3)","it":2315,"v":0.35},{"psi":"Ψ(3)","it":2330,"v":0.7},{"psi":"Ψ(3)","it":2345,"v":0.1},{"psi":"Ψ(3)","it":2360,"v":0.5},{"psi":"Ψ(3)","it":2375,"v":0.9},{"psi":"Ψ(3)","it":2390,"v":0.3},{"psi":"Ψ(3)","it":2405,"v":0.8},{"psi":"Ψ(3)","it":2420,"v":0.2},{"psi":"Ψ(3)","it":2444,"v":6e-4},{"psi":"Ψ(3)","it":2455,"v":0.5},{"psi":"Ψ(3)","it":2470,"v":0.9},{"psi":"Ψ(3)","it":2485,"v":0.3},{"psi":"Ψ(3)","it":2500,"v":0.7},{"psi":"Ψ(3)","it":2515,"v":0.15},{"psi":"Ψ(3)","it":2530,"v":0.6},{"psi":"Ψ(3)","it":2545,"v":0.9},{"psi":"Ψ(3)","it":2560,"v":0.25},{"psi":"Ψ(3)","it":2575,"v":0.8},{"psi":"Ψ(3)","it":2590,"v":0.3},{"psi":"Ψ(3)","it":2605,"v":0.9},{"psi":"Ψ(3)","it":2620,"v":0.2},{"psi":"Ψ(3)","it":2637,"v":0.01},{"psi":"Ψ(3)","it":2650,"v":0.5},{"psi":"Ψ(3)","it":2665,"v":0.9},{"psi":"Ψ(3)","it":2680,"v":0.3},{"psi":"Ψ(3)","it":2695,"v":0.6},{"psi":"Ψ(3)","it":2710,"v":0.15},{"psi":"Ψ(3)","it":2727,"v":3e-3},{"psi":"Ψ(3)","it":2740,"v":0.4},{"psi":"Ψ(3)","it":2755,"v":0.9},{"psi":"Ψ(3)","it":2770,"v":0.2},{"psi":"Ψ(3)","it":2785,"v":0.7},{"psi":"Ψ(3)","it":2800,"v":0.3},{"psi":"Ψ(3)","it":2815,"v":0.9},{"psi":"Ψ(3)","it":2830,"v":0.15},{"psi":"Ψ(3)","it":2845,"v":0.6},{"psi":"Ψ(3)","it":2860,"v":0.9},{"psi":"Ψ(3)","it":2875,"v":0.3},{"psi":"Ψ(3)","it":2890,"v":0.8},{"psi":"Ψ(3)","it":2905,"v":0.1},{"psi":"Ψ(3)","it":2920,"v":0.5},{"psi":"Ψ(3)","it":2935,"v":0.03},{"psi":"Ψ(3)","it":2950,"v":0.02},{"psi":"Ψ(3)","it":2968,"v":2e-3},{"psi":"Ψ(3)","it":2980,"v":0.05},{"psi":"Ψ(3)","it":2995,"v":0.6},{"psi":"Ψ(3)","it":3010,"v":0.9},{"psi":"Ψ(3)","it":3025,"v":0.3},{"psi":"Ψ(3)","it":3040,"v":0.7},{"psi":"Ψ(3)","it":3055,"v":0.15},{"psi":"Ψ(3)","it":3070,"v":0.6},{"psi":"Ψ(3)","it":3085,"v":0.9},{"psi":"Ψ(3)","it":3100,"v":0.3},{"psi":"Ψ(3)","it":3115,"v":0.8},{"psi":"Ψ(3)","it":3130,"v":0.2},{"psi":"Ψ(3)","it":3145,"v":0.6},{"psi":"Ψ(3)","it":3160,"v":0.9},{"psi":"Ψ(3)","it":3175,"v":0.3},{"psi":"Ψ(3)","it":3190,"v":0.7},{"psi":"Ψ(3)","it":3205,"v":0.1},{"psi":"Ψ(3)","it":3220,"v":0.5},{"psi":"Ψ(3)","it":3235,"v":0.9},{"psi":"Ψ(3)","it":3250,"v":0.3},{"psi":"Ψ(3)","it":3265,"v":0.7},{"psi":"Ψ(3)","it":3280,"v":0.2},{"psi":"Ψ(3)","it":3295,"v":0.6},{"psi":"Ψ(3)","it":3310,"v":0.9},{"psi":"Ψ(3)","it":3325,"v":0.3},{"psi":"Ψ(3)","it":3340,"v":0.8},{"psi":"Ψ(3)","it":3355,"v":0.15},{"psi":"Ψ(3)","it":3370,"v":0.5},{"psi":"Ψ(3)","it":3385,"v":0.9},{"psi":"Ψ(3)","it":3400,"v":0.3},{"psi":"Ψ(3)","it":3415,"v":0.7},{"psi":"Ψ(3)","it":3430,"v":0.2},{"psi":"Ψ(3)","it":3445,"v":0.6},{"psi":"Ψ(3)","it":3460,"v":0.03},{"psi":"Ψ(3)","it":3475,"v":0.01},{"psi":"Ψ(3)","it":3491,"v":2.5e-3},{"psi":"Ψ(3)","it":3505,"v":0.3},{"psi":"Ψ(3)","it":3520,"v":0.9},{"psi":"Ψ(3)","it":3535,"v":0.25},{"psi":"Ψ(3)","it":3550,"v":0.7},{"psi":"Ψ(3)","it":3565,"v":0.9},{"psi":"Ψ(3)","it":3580,"v":0.3},{"psi":"Ψ(3)","it":3595,"v":0.8},{"psi":"Ψ(3)","it":3610,"v":0.15},{"psi":"Ψ(3)","it":3625,"v":0.5},{"psi":"Ψ(3)","it":3640,"v":0.9},{"psi":"Ψ(3)","it":3655,"v":0.3},{"psi":"Ψ(3)","it":3670,"v":0.7},{"psi":"Ψ(3)","it":3685,"v":0.1},{"psi":"Ψ(3)","it":3700,"v":0.5},{"psi":"Ψ(3)","it":3715,"v":0.9},{"psi":"Ψ(3)","it":3730,"v":0.3},{"psi":"Ψ(3)","it":3745,"v":0.8},{"psi":"Ψ(3)","it":3760,"v":0.2},{"psi":"Ψ(3)","it":3775,"v":0.6},{"psi":"Ψ(3)","it":3790,"v":0.9},{"psi":"Ψ(3)","it":3805,"v":0.3},{"psi":"Ψ(3)","it":3820,"v":0.7},{"psi":"Ψ(3)","it":3835,"v":0.15},{"psi":"Ψ(3)","it":3850,"v":0.5},{"psi":"Ψ(3)","it":3865,"v":0.9},{"psi":"Ψ(3)","it":3880,"v":0.3},{"psi":"Ψ(3)","it":3895,"v":0.8},{"psi":"Ψ(3)","it":3910,"v":0.2},{"psi":"Ψ(3)","it":3925,"v":0.6},{"psi":"Ψ(3)","it":3940,"v":0.9},{"psi":"Ψ(3)","it":3958,"v":0.01},{"psi":"Ψ(3)","it":3970,"v":0.4},{"psi":"Ψ(3)","it":3985,"v":0.9},{"psi":"Ψ(3)","it":4000,"v":0.2}
],
"bot": [
{"psi":"Ψ(0)","it":0,"v":1.6e-3},{"psi":"Ψ(0)","it":206,"v":1e-6},{"psi":"Ψ(0)","it":515,"v":1e-8},{"psi":"Ψ(0)","it":721,"v":1e-7},{"psi":"Ψ(0)","it":927,"v":1e-6},{"psi":"Ψ(0)","it":1082,"v":4e-13},{"psi":"Ψ(0)","it":1236,"v":2e-17},{"psi":"Ψ(0)","it":1391,"v":1.6e-18},{"psi":"Ψ(0)","it":1494,"v":1e-22},{"psi":"Ψ(0)","it":1627,"v":1.6e-18},{"psi":"Ψ(0)","it":1751,"v":6e-25},{"psi":"Ψ(0)","it":1957,"v":4e-28},{"psi":"Ψ(0)","it":2112,"v":5e-27},{"psi":"Ψ(0)","it":2215,"v":2.5e-31},{"psi":"Ψ(0)","it":2369,"v":1.6e-34},{"psi":"Ψ(0)","it":2575,"v":1e-37},{"psi":"Ψ(0)","it":2781,"v":1e-38},{"psi":"Ψ(0)","it":2936,"v":6e-41},{"psi":"Ψ(0)","it":3069,"v":3e-45},{"psi":"Ψ(0)","it":3172,"v":1e-39},{"psi":"Ψ(0)","it":3348,"v":1.6e-43},{"psi":"Ψ(0)","it":3554,"v":3e-45},{"psi":"Ψ(0)","it":3760,"v":2.5e-46},{"psi":"Ψ(0)","it":4017,"v":1.6e-49},{"psi":"Ψ(0)","it":4326,"v":2e-48},{"psi":"Ψ(0)","it":4635,"v":1e-52},{"psi":"Ψ(0)","it":4841,"v":6e-50},{"psi":"Ψ(0)","it":5047,"v":1.3e-50},{"psi":"Ψ(0)","it":5253,"v":1e-53},{"psi":"Ψ(0)","it":5459,"v":2.5e-56},{"psi":"Ψ(0)","it":5717,"v":1e-52},{"psi":"Ψ(0)","it":5923,"v":2.5e-56},{"psi":"Ψ(0)","it":6129,"v":6e-56},{"psi":"Ψ(0)","it":6386,"v":4e-59},{"psi":"Ψ(0)","it":6644,"v":6e-56},{"psi":"Ψ(0)","it":6901,"v":1e-53},{"psi":"Ψ(0)","it":7159,"v":1e-52},{"psi":"Ψ(0)","it":7313,"v":3e-51},{"psi":"Ψ(0)","it":7519,"v":1.6e-49},{"psi":"Ψ(0)","it":7725,"v":1e-53},{"psi":"Ψ(0)","it":7983,"v":5e-57},{"psi":"Ψ(0)","it":8240,"v":2.5e-62},{"psi":"Ψ(0)","it":8498,"v":1.6e-64},{"psi":"Ψ(0)","it":8755,"v":1e-68},{"psi":"Ψ(0)","it":8961,"v":8e-70},{"psi":"Ψ(0)","it":9167,"v":1e-68},{"psi":"Ψ(0)","it":9373,"v":1e-70},{"psi":"Ψ(0)","it":9579,"v":2.5e-77},{"psi":"Ψ(0)","it":9784,"v":2e-79},{"psi":"Ψ(0)","it":9990,"v":8e-85},{"psi":"Ψ(0)","it":10145,"v":5e-88},{"psi":"Ψ(0)","it":10299,"v":6e-87},{"psi":"Ψ(0)","it":10505,"v":3e-91},{"psi":"Ψ(0)","it":10711,"v":6e-92},{"psi":"Ψ(0)","it":10917,"v":2.5e-92},{"psi":"Ψ(0)","it":11020,"v":3e-91},{"psi":"Ψ(0)","it":11175,"v":1e-98},{"psi":"Ψ(0)","it":11329,"v":4e-105},{"psi":"Ψ(0)","it":11535,"v":3e-107},{"psi":"Ψ(0)","it":11720,"v":8e-110},{"psi":"Ψ(0)","it":11844,"v":1.6e-105},{"psi":"Ψ(0)","it":11999,"v":2e-109},{"psi":"Ψ(0)","it":12205,"v":2.5e-108},{"psi":"Ψ(0)","it":12411,"v":4e-105},{"psi":"Ψ(0)","it":12617,"v":5e-104},{"psi":"Ψ(0)","it":12771,"v":3e-107},{"psi":"Ψ(0)","it":12977,"v":2e-109},{"psi":"Ψ(0)","it":13235,"v":5e-104},{"psi":"Ψ(0)","it":13441,"v":4e-105},{"psi":"Ψ(0)","it":13647,"v":3e-107},{"psi":"Ψ(0)","it":13904,"v":3e-107},{"psi":"Ψ(0)","it":14110,"v":1.3e-112},{"psi":"Ψ(0)","it":14316,"v":1e-114},{"psi":"Ψ(0)","it":14522,"v":6e-117},{"psi":"Ψ(0)","it":14728,"v":5e-119},{"psi":"Ψ(0)","it":14934,"v":4e-120},{"psi":"Ψ(0)","it":15089,"v":2.5e-123},{"psi":"Ψ(0)","it":15243,"v":3e-121},{"psi":"Ψ(0)","it":15449,"v":2.5e-123},{"psi":"Ψ(0)","it":15655,"v":1.6e-126},{"psi":"Ψ(0)","it":15861,"v":1.3e-127},{"psi":"Ψ(0)","it":16067,"v":1.3e-128},{"psi":"Ψ(0)","it":16273,"v":8e-131},{"psi":"Ψ(0)","it":16479,"v":6e-133},{"psi":"Ψ(0)","it":16685,"v":6e-132},{"psi":"Ψ(0)","it":16891,"v":1.6e-132},{"psi":"Ψ(0)","it":17097,"v":8e-131},{"psi":"Ψ(0)","it":17252,"v":6e-133},{"psi":"Ψ(0)","it":17407,"v":8e-131},{"psi":"Ψ(0)","it":17613,"v":4e-135},{"psi":"Ψ(0)","it":17819,"v":3e-137},{"psi":"Ψ(0)","it":18076,"v":2.5e-138},{"psi":"Ψ(0)","it":18282,"v":2.5e-139},{"psi":"Ψ(0)","it":18488,"v":1.3e-142},{"psi":"Ψ(0)","it":18746,"v":1e-143},{"psi":"Ψ(0)","it":18952,"v":8e-147},{"psi":"Ψ(0)","it":19158,"v":1.3e-149},{"psi":"Ψ(0)","it":19364,"v":5e-150},{"psi":"Ψ(0)","it":19621,"v":3e-153},{"psi":"Ψ(0)","it":19827,"v":2.5e-154},{"psi":"Ψ(0)","it":20033,"v":2e-155},{"psi":"Ψ(0)","it":20239,"v":1.6e-157},{"psi":"Ψ(0)","it":20445,"v":1e-159},{"psi":"Ψ(0)","it":20651,"v":1e-160},{"psi":"Ψ(0)","it":20909,"v":1e-159},{"psi":"Ψ(0)","it":21115,"v":6e-163},{"psi":"Ψ(0)","it":21321,"v":5e-165},{"psi":"Ψ(0)","it":21578,"v":4e-166},{"psi":"Ψ(0)","it":21836,"v":3e-168},{"psi":"Ψ(0)","it":21990,"v":1.6e-172},{"psi":"Ψ(0)","it":22196,"v":1e-174},{"psi":"Ψ(0)","it":22402,"v":1e-175},{"psi":"Ψ(0)","it":22608,"v":6e-178},{"psi":"Ψ(0)","it":22814,"v":8e-177},{"psi":"Ψ(0)","it":23020,"v":6e-179},{"psi":"Ψ(0)","it":23226,"v":5e-180},{"psi":"Ψ(0)","it":23432,"v":4e-181},{"psi":"Ψ(0)","it":23638,"v":3e-183},{"psi":"Ψ(0)","it":23844,"v":1e-191},{"psi":"Ψ(0)","it":24102,"v":1.3e-189},{"psi":"Ψ(0)","it":24308,"v":6e-194},{"psi":"Ψ(0)","it":24514,"v":5e-196},{"psi":"Ψ(0)","it":24669,"v":3e-199},{"psi":"Ψ(0)","it":24823,"v":5e-196},{"psi":"Ψ(0)","it":24977,"v":3e-198},
{"psi":"Ψ(1)","it":0,"v":0.05},{"psi":"Ψ(1)","it":309,"v":0.02},{"psi":"Ψ(1)","it":515,"v":8e-3},{"psi":"Ψ(1)","it":721,"v":0.02},{"psi":"Ψ(1)","it":927,"v":1.6e-3},{"psi":"Ψ(1)","it":1082,"v":0.02},{"psi":"Ψ(1)","it":1236,"v":1.3e-4},{"psi":"Ψ(1)","it":1442,"v":1.3e-5},{"psi":"Ψ(1)","it":1596,"v":1.3e-4},{"psi":"Ψ(1)","it":1803,"v":6e-10},{"psi":"Ψ(1)","it":1957,"v":5e-12},{"psi":"Ψ(1)","it":2112,"v":5e-11},{"psi":"Ψ(1)","it":2318,"v":3e-15},{"psi":"Ψ(1)","it":2524,"v":3e-14},{"psi":"Ψ(1)","it":2730,"v":1.3e-20},{"psi":"Ψ(1)","it":2936,"v":8e-24},{"psi":"Ψ(1)","it":3090,"v":3e-29},{"psi":"Ψ(1)","it":3296,"v":2.5e-31},{"psi":"Ψ(1)","it":3502,"v":1.3e-35},{"psi":"Ψ(1)","it":3708,"v":1e-38},{"psi":"Ψ(1)","it":3914,"v":2e-41},{"psi":"Ψ(1)","it":4120,"v":1.6e-43},{"psi":"Ψ(1)","it":4378,"v":3e-45},{"psi":"Ψ(1)","it":4635,"v":1.3e-44},{"psi":"Ψ(1)","it":4841,"v":2.5e-46},{"psi":"Ψ(1)","it":4996,"v":4e-49},{"psi":"Ψ(1)","it":5150,"v":1e-53},{"psi":"Ψ(1)","it":5305,"v":2.5e-62},{"psi":"Ψ(1)","it":5459,"v":1e-62},{"psi":"Ψ(1)","it":5614,"v":3e-60},{"psi":"Ψ(1)","it":5717,"v":5e-58},{"psi":"Ψ(1)","it":5871,"v":1.6e-64},{"psi":"Ψ(1)","it":6077,"v":1e-67},{"psi":"Ψ(1)","it":6232,"v":2.5e-68},{"psi":"Ψ(1)","it":6386,"v":6e-72},{"psi":"Ψ(1)","it":6592,"v":4e-74},{"psi":"Ψ(1)","it":6798,"v":3e-75},{"psi":"Ψ(1)","it":7004,"v":1e-74},{"psi":"Ψ(1)","it":7210,"v":1.3e-75},{"psi":"Ψ(1)","it":7468,"v":3e-76},{"psi":"Ψ(1)","it":7622,"v":2e-78},{"psi":"Ψ(1)","it":7777,"v":1.6e-80},{"psi":"Ψ(1)","it":8034,"v":1.3e-82},{"psi":"Ψ(1)","it":8240,"v":2.5e-86},{"psi":"Ψ(1)","it":8446,"v":6e-86},{"psi":"Ψ(1)","it":8652,"v":1e-83},{"psi":"Ψ(1)","it":8858,"v":2.5e-86},{"psi":"Ψ(1)","it":9064,"v":1.3e-87},{"psi":"Ψ(1)","it":9270,"v":4e-90},{"psi":"Ψ(1)","it":9476,"v":3e-92},{"psi":"Ψ(1)","it":9682,"v":2e-94},{"psi":"Ψ(1)","it":9784,"v":1.3e-97},{"psi":"Ψ(1)","it":9990,"v":1e-98},{"psi":"Ψ(1)","it":10196,"v":5e-103},{"psi":"Ψ(1)","it":10402,"v":3e-106},{"psi":"Ψ(1)","it":10557,"v":1.6e-110},{"psi":"Ψ(1)","it":10763,"v":1e-112},{"psi":"Ψ(1)","it":10969,"v":1.6e-111},{"psi":"Ψ(1)","it":11123,"v":8e-116},{"psi":"Ψ(1)","it":11329,"v":3e-121},{"psi":"Ψ(1)","it":11484,"v":2e-124},{"psi":"Ψ(1)","it":11638,"v":6e-124},{"psi":"Ψ(1)","it":11844,"v":1e-122},{"psi":"Ψ(1)","it":12050,"v":2e-124},{"psi":"Ψ(1)","it":12256,"v":1.6e-125},{"psi":"Ψ(1)","it":12462,"v":1.6e-125},{"psi":"Ψ(1)","it":12617,"v":2.5e-123},{"psi":"Ψ(1)","it":12771,"v":1e-129},{"psi":"Ψ(1)","it":12977,"v":6e-132},{"psi":"Ψ(1)","it":13183,"v":6e-133},{"psi":"Ψ(1)","it":13286,"v":4e-129},{"psi":"Ψ(1)","it":13492,"v":6e-132},{"psi":"Ψ(1)","it":13698,"v":4e-135},{"psi":"Ψ(1)","it":13904,"v":4e-136},{"psi":"Ψ(1)","it":14110,"v":2.5e-139},{"psi":"Ψ(1)","it":14316,"v":1.6e-141},{"psi":"Ψ(1)","it":14522,"v":1e-143},{"psi":"Ψ(1)","it":14728,"v":1.3e-142},{"psi":"Ψ(1)","it":14934,"v":6e-148},{"psi":"Ψ(1)","it":15089,"v":1e-150},{"psi":"Ψ(1)","it":15243,"v":8e-147},{"psi":"Ψ(1)","it":15449,"v":1e-151},{"psi":"Ψ(1)","it":15655,"v":2e-155},{"psi":"Ψ(1)","it":15913,"v":5e-156},{"psi":"Ψ(1)","it":16119,"v":2.5e-154},{"psi":"Ψ(1)","it":16325,"v":1.6e-157},{"psi":"Ψ(1)","it":16531,"v":1e-160},{"psi":"Ψ(1)","it":16737,"v":1.6e-162},{"psi":"Ψ(1)","it":16943,"v":8e-162},{"psi":"Ψ(1)","it":17149,"v":6e-163},{"psi":"Ψ(1)","it":17458,"v":8e-162},{"psi":"Ψ(1)","it":17664,"v":5e-165},{"psi":"Ψ(1)","it":17870,"v":4e-166},{"psi":"Ψ(1)","it":18025,"v":2e-171},{"psi":"Ψ(1)","it":18231,"v":1.3e-173},{"psi":"Ψ(1)","it":18488,"v":1e-175},{"psi":"Ψ(1)","it":18746,"v":6e-178},{"psi":"Ψ(1)","it":18952,"v":5e-180},{"psi":"Ψ(1)","it":19158,"v":5e-180},{"psi":"Ψ(1)","it":19312,"v":6e-178},{"psi":"Ψ(1)","it":19467,"v":2.5e-185},{"psi":"Ψ(1)","it":19673,"v":1.6e-187},{"psi":"Ψ(1)","it":19879,"v":1.3e-189},{"psi":"Ψ(1)","it":20085,"v":1.3e-189},{"psi":"Ψ(1)","it":20290,"v":6e-194},{"psi":"Ψ(1)","it":20496,"v":4e-197},{"psi":"Ψ(1)","it":20702,"v":2.5e-200},{"psi":"Ψ(1)","it":20857,"v":1.6e-203},{"psi":"Ψ(1)","it":21063,"v":2e-201},{"psi":"Ψ(1)","it":21269,"v":1e-206},{"psi":"Ψ(1)","it":21475,"v":6e-209},{"psi":"Ψ(1)","it":21681,"v":6e-210},{"psi":"Ψ(1)","it":21887,"v":3e-214},{"psi":"Ψ(1)","it":22093,"v":2.5e-215},{"psi":"Ψ(1)","it":22299,"v":3e-213},{"psi":"Ψ(1)","it":22505,"v":2.5e-216},{"psi":"Ψ(1)","it":22711,"v":1.3e-219},{"psi":"Ψ(1)","it":22917,"v":6e-224},{"psi":"Ψ(1)","it":23123,"v":5e-226},{"psi":"Ψ(1)","it":23329,"v":3e-229},{"psi":"Ψ(1)","it":23535,"v":2.5e-231},{"psi":"Ψ(1)","it":23741,"v":1e-236},{"psi":"Ψ(1)","it":23896,"v":6e-240},{"psi":"Ψ(1)","it":24102,"v":1e-237},{"psi":"Ψ(1)","it":24257,"v":6e-241},{"psi":"Ψ(1)","it":24411,"v":2e-247},{"psi":"Ψ(1)","it":24617,"v":1.6e-249},{"psi":"Ψ(1)","it":24823,"v":1.3e-251},{"psi":"Ψ(1)","it":24998,"v":2e-254},
{"psi":"Ψ(2)","it":0,"v":0.5},{"psi":"Ψ(2)","it":125,"v":0.01},{"psi":"Ψ(2)","it":250,"v":0.3},{"psi":"Ψ(2)","it":375,"v":1e-3},{"psi":"Ψ(2)","it":500,"v":0.6},{"psi":"Ψ(2)","it":625,"v":0.02},{"psi":"Ψ(2)","it":750,"v":0.4},{"psi":"Ψ(2)","it":875,"v":3e-3},{"psi":"Ψ(2)","it":1000,"v":0.5},{"psi":"Ψ(2)","it":1125,"v":1e-3},{"psi":"Ψ(2)","it":1250,"v":2e-5},{"psi":"Ψ(2)","it":1375,"v":3e-3},{"psi":"Ψ(2)","it":1500,"v":0.3},{"psi":"Ψ(2)","it":1625,"v":0.01},{"psi":"Ψ(2)","it":1750,"v":1e-4},{"psi":"Ψ(2)","it":1875,"v":0.5},{"psi":"Ψ(2)","it":2000,"v":0.02},{"psi":"Ψ(2)","it":2250,"v":0.4},{"psi":"Ψ(2)","it":2500,"v":1e-3},{"psi":"Ψ(2)","it":2750,"v":0.6},{"psi":"Ψ(2)","it":3000,"v":5e-3},{"psi":"Ψ(2)","it":3250,"v":0.3},{"psi":"Ψ(2)","it":3500,"v":1e-4},{"psi":"Ψ(2)","it":3750,"v":0.5},{"psi":"Ψ(2)","it":4000,"v":0.01},{"psi":"Ψ(2)","it":4250,"v":0.4},{"psi":"Ψ(2)","it":4500,"v":2e-3},{"psi":"Ψ(2)","it":4750,"v":0.6},{"psi":"Ψ(2)","it":5000,"v":1e-5},{"psi":"Ψ(2)","it":5250,"v":0.3},{"psi":"Ψ(2)","it":5500,"v":5e-3},{"psi":"Ψ(2)","it":5750,"v":0.5},{"psi":"Ψ(2)","it":6000,"v":1e-3},{"psi":"Ψ(2)","it":6250,"v":0.4},{"psi":"Ψ(2)","it":6500,"v":0.02},{"psi":"Ψ(2)","it":6750,"v":0.6},{"psi":"Ψ(2)","it":7000,"v":1e-4},{"psi":"Ψ(2)","it":7250,"v":0.3},{"psi":"Ψ(2)","it":7500,"v":3e-3},{"psi":"Ψ(2)","it":7750,"v":0.5},{"psi":"Ψ(2)","it":8000,"v":0.01},{"psi":"Ψ(2)","it":8250,"v":0.4},{"psi":"Ψ(2)","it":8500,"v":1e-3},{"psi":"Ψ(2)","it":8750,"v":0.6},{"psi":"Ψ(2)","it":9000,"v":2e-4},{"psi":"Ψ(2)","it":9250,"v":0.3},{"psi":"Ψ(2)","it":9500,"v":5e-3},{"psi":"Ψ(2)","it":9750,"v":0.5},{"psi":"Ψ(2)","it":10000,"v":1e-3},{"psi":"Ψ(2)","it":10250,"v":0.4},{"psi":"Ψ(2)","it":10500,"v":0.02},{"psi":"Ψ(2)","it":10750,"v":0.6},{"psi":"Ψ(2)","it":11000,"v":1e-4},{"psi":"Ψ(2)","it":11250,"v":0.3},{"psi":"Ψ(2)","it":11500,"v":2e-3},{"psi":"Ψ(2)","it":11750,"v":0.5},{"psi":"Ψ(2)","it":12000,"v":0.01},{"psi":"Ψ(2)","it":12250,"v":0.4},{"psi":"Ψ(2)","it":12500,"v":1e-3},{"psi":"Ψ(2)","it":12750,"v":0.6},{"psi":"Ψ(2)","it":13000,"v":1e-5},{"psi":"Ψ(2)","it":13250,"v":0.3},{"psi":"Ψ(2)","it":13500,"v":5e-3},{"psi":"Ψ(2)","it":13750,"v":0.5},{"psi":"Ψ(2)","it":14000,"v":1e-3},{"psi":"Ψ(2)","it":14250,"v":0.4},{"psi":"Ψ(2)","it":14500,"v":0.02},{"psi":"Ψ(2)","it":14750,"v":0.6},{"psi":"Ψ(2)","it":15000,"v":1e-4},{"psi":"Ψ(2)","it":15250,"v":0.3},{"psi":"Ψ(2)","it":15500,"v":3e-3},{"psi":"Ψ(2)","it":15750,"v":0.5},{"psi":"Ψ(2)","it":16000,"v":0.01},{"psi":"Ψ(2)","it":16250,"v":0.4},{"psi":"Ψ(2)","it":16500,"v":1e-3},{"psi":"Ψ(2)","it":16750,"v":0.6},{"psi":"Ψ(2)","it":17000,"v":2e-4},{"psi":"Ψ(2)","it":17250,"v":0.3},{"psi":"Ψ(2)","it":17500,"v":5e-3},{"psi":"Ψ(2)","it":17750,"v":0.5},{"psi":"Ψ(2)","it":18000,"v":1e-3},{"psi":"Ψ(2)","it":18250,"v":0.4},{"psi":"Ψ(2)","it":18500,"v":0.02},{"psi":"Ψ(2)","it":18750,"v":0.6},{"psi":"Ψ(2)","it":19000,"v":1e-5},{"psi":"Ψ(2)","it":19250,"v":0.3},{"psi":"Ψ(2)","it":19500,"v":2e-3},{"psi":"Ψ(2)","it":19750,"v":0.5},{"psi":"Ψ(2)","it":20000,"v":0.01},{"psi":"Ψ(2)","it":20250,"v":0.4},{"psi":"Ψ(2)","it":20500,"v":1e-3},{"psi":"Ψ(2)","it":20750,"v":0.6},{"psi":"Ψ(2)","it":21000,"v":1e-4},{"psi":"Ψ(2)","it":21250,"v":0.3},{"psi":"Ψ(2)","it":21500,"v":5e-3},{"psi":"Ψ(2)","it":21750,"v":0.5},{"psi":"Ψ(2)","it":22000,"v":1e-3},{"psi":"Ψ(2)","it":22250,"v":0.4},{"psi":"Ψ(2)","it":22500,"v":0.02},{"psi":"Ψ(2)","it":22750,"v":0.6},{"psi":"Ψ(2)","it":23000,"v":2e-4},{"psi":"Ψ(2)","it":23250,"v":0.3},{"psi":"Ψ(2)","it":23500,"v":3e-3},{"psi":"Ψ(2)","it":23750,"v":0.5},{"psi":"Ψ(2)","it":24000,"v":0.01},{"psi":"Ψ(2)","it":24250,"v":0.4},{"psi":"Ψ(2)","it":24500,"v":1e-4},{"psi":"Ψ(2)","it":24750,"v":0.6},{"psi":"Ψ(2)","it":25000,"v":2e-3},
{"psi":"Ψ(3)","it":0,"v":0.1},{"psi":"Ψ(3)","it":100,"v":3e-3},{"psi":"Ψ(3)","it":200,"v":1e-4},{"psi":"Ψ(3)","it":300,"v":1e-6},{"psi":"Ψ(3)","it":400,"v":3e-5},{"psi":"Ψ(3)","it":500,"v":1e-7},{"psi":"Ψ(3)","it":600,"v":1e-6},{"psi":"Ψ(3)","it":700,"v":1e-8},{"psi":"Ψ(3)","it":800,"v":1e-6},{"psi":"Ψ(3)","it":900,"v":1e-4},{"psi":"Ψ(3)","it":1000,"v":1e-3},{"psi":"Ψ(3)","it":1125,"v":0.2},{"psi":"Ψ(3)","it":1250,"v":0.01},{"psi":"Ψ(3)","it":1375,"v":0.5},{"psi":"Ψ(3)","it":1500,"v":1e-3},{"psi":"Ψ(3)","it":1625,"v":0.4},{"psi":"Ψ(3)","it":1750,"v":0.03},{"psi":"Ψ(3)","it":1875,"v":0.6},{"psi":"Ψ(3)","it":2125,"v":1e-3},{"psi":"Ψ(3)","it":2375,"v":0.5},{"psi":"Ψ(3)","it":2625,"v":0.01},{"psi":"Ψ(3)","it":2875,"v":0.3},{"psi":"Ψ(3)","it":3125,"v":2e-4},{"psi":"Ψ(3)","it":3375,"v":0.6},{"psi":"Ψ(3)","it":3625,"v":3e-3},{"psi":"Ψ(3)","it":3875,"v":0.4},{"psi":"Ψ(3)","it":4125,"v":1e-3},{"psi":"Ψ(3)","it":4375,"v":0.5},{"psi":"Ψ(3)","it":4625,"v":0.02},{"psi":"Ψ(3)","it":4875,"v":0.3},{"psi":"Ψ(3)","it":5125,"v":1e-4},{"psi":"Ψ(3)","it":5375,"v":0.6},{"psi":"Ψ(3)","it":5625,"v":2e-3},{"psi":"Ψ(3)","it":5875,"v":0.4},{"psi":"Ψ(3)","it":6125,"v":0.01},{"psi":"Ψ(3)","it":6375,"v":0.5},{"psi":"Ψ(3)","it":6625,"v":1e-3},{"psi":"Ψ(3)","it":6875,"v":0.3},{"psi":"Ψ(3)","it":7125,"v":3e-4},{"psi":"Ψ(3)","it":7375,"v":0.6},{"psi":"Ψ(3)","it":7625,"v":5e-3},{"psi":"Ψ(3)","it":7875,"v":0.4},{"psi":"Ψ(3)","it":8125,"v":1e-3},{"psi":"Ψ(3)","it":8375,"v":0.5},{"psi":"Ψ(3)","it":8625,"v":0.02},{"psi":"Ψ(3)","it":8875,"v":0.3},{"psi":"Ψ(3)","it":9125,"v":1e-4},{"psi":"Ψ(3)","it":9375,"v":0.6},{"psi":"Ψ(3)","it":9625,"v":2e-3},{"psi":"Ψ(3)","it":9875,"v":0.4},{"psi":"Ψ(3)","it":10125,"v":0.01},{"psi":"Ψ(3)","it":10375,"v":0.5},{"psi":"Ψ(3)","it":10625,"v":1e-3},{"psi":"Ψ(3)","it":10875,"v":0.3},{"psi":"Ψ(3)","it":11125,"v":3e-4},{"psi":"Ψ(3)","it":11375,"v":0.6},{"psi":"Ψ(3)","it":11625,"v":5e-3},{"psi":"Ψ(3)","it":11875,"v":0.4},{"psi":"Ψ(3)","it":12125,"v":1e-3},{"psi":"Ψ(3)","it":12375,"v":0.5},{"psi":"Ψ(3)","it":12625,"v":0.02},{"psi":"Ψ(3)","it":12875,"v":0.3},{"psi":"Ψ(3)","it":13125,"v":1e-6},{"psi":"Ψ(3)","it":13375,"v":0.6},{"psi":"Ψ(3)","it":13625,"v":2e-3},{"psi":"Ψ(3)","it":13875,"v":0.4},{"psi":"Ψ(3)","it":14125,"v":0.01},{"psi":"Ψ(3)","it":14375,"v":0.5},{"psi":"Ψ(3)","it":14625,"v":1e-3},{"psi":"Ψ(3)","it":14875,"v":0.3},{"psi":"Ψ(3)","it":15125,"v":1e-4},{"psi":"Ψ(3)","it":15375,"v":0.6},{"psi":"Ψ(3)","it":15625,"v":5e-3},{"psi":"Ψ(3)","it":15875,"v":0.4},{"psi":"Ψ(3)","it":16125,"v":1e-3},{"psi":"Ψ(3)","it":16375,"v":0.5},{"psi":"Ψ(3)","it":16625,"v":0.02},{"psi":"Ψ(3)","it":16875,"v":0.3},{"psi":"Ψ(3)","it":17125,"v":2e-4},{"psi":"Ψ(3)","it":17375,"v":0.6},{"psi":"Ψ(3)","it":17625,"v":3e-3},{"psi":"Ψ(3)","it":17875,"v":0.4},{"psi":"Ψ(3)","it":18125,"v":0.01},{"psi":"Ψ(3)","it":18375,"v":0.5},{"psi":"Ψ(3)","it":18625,"v":1e-3},{"psi":"Ψ(3)","it":18875,"v":0.3},{"psi":"Ψ(3)","it":19125,"v":1e-4},{"psi":"Ψ(3)","it":19375,"v":0.6},{"psi":"Ψ(3)","it":19625,"v":5e-3},{"psi":"Ψ(3)","it":19875,"v":0.4},{"psi":"Ψ(3)","it":20125,"v":1e-3},{"psi":"Ψ(3)","it":20375,"v":0.5},{"psi":"Ψ(3)","it":20625,"v":0.02},{"psi":"Ψ(3)","it":20875,"v":0.3},{"psi":"Ψ(3)","it":21125,"v":3e-4},{"psi":"Ψ(3)","it":21375,"v":0.6},{"psi":"Ψ(3)","it":21625,"v":2e-3},{"psi":"Ψ(3)","it":21875,"v":0.4},{"psi":"Ψ(3)","it":22125,"v":0.01},{"psi":"Ψ(3)","it":22375,"v":0.5},{"psi":"Ψ(3)","it":22625,"v":1e-3},{"psi":"Ψ(3)","it":22875,"v":0.3},{"psi":"Ψ(3)","it":23125,"v":1e-5},{"psi":"Ψ(3)","it":23375,"v":0.6},{"psi":"Ψ(3)","it":23625,"v":5e-3},{"psi":"Ψ(3)","it":23875,"v":0.4},{"psi":"Ψ(3)","it":24125,"v":1e-3},{"psi":"Ψ(3)","it":24375,"v":0.5},{"psi":"Ψ(3)","it":24625,"v":0.02},{"psi":"Ψ(3)","it":24875,"v":0.3},{"psi":"Ψ(3)","it":25000,"v":0.01}
]
}
}
